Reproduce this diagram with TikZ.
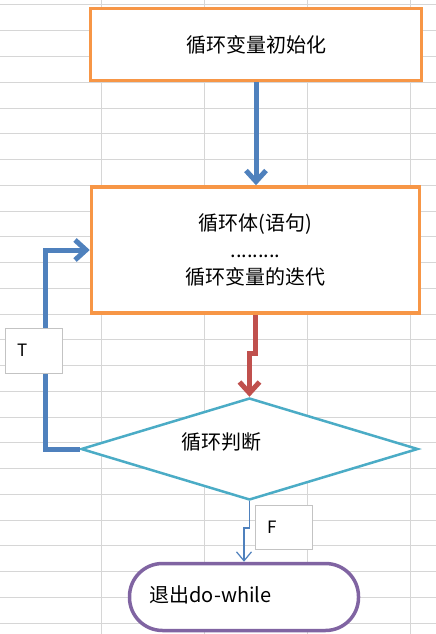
\documentclass[tikz,border=0pt]{standalone}
\usepackage{fontspec}
\setmainfont{Noto Sans CJK SC}
\usetikzlibrary{shapes.geometric,arrows.meta}

\definecolor{offorange}{RGB}{247,150,70}
\definecolor{offblue}{RGB}{79,129,189}
\definecolor{offred}{RGB}{192,80,77}
\definecolor{offteal}{RGB}{75,172,198}
\definecolor{offpurple}{RGB}{128,100,162}
\definecolor{cellgrid}{RGB}{214,214,214}
\definecolor{tagborder}{RGB}{195,195,195}

\begin{document}
\begin{tikzpicture}[x=1pt, y=-1pt,
  orangebox/.style={draw=offorange, line width=3.5pt, fill=white, inner sep=0pt,
    align=center, font=\fontsize{20}{27}\selectfont},
  tealdiamond/.style={diamond, draw=offteal, line width=2.5pt, fill=white, inner sep=0pt},
  purpleterm/.style={draw=offpurple, line width=3.5pt, fill=white, inner sep=0pt,
    rounded corners=33pt},
  plaintext/.style={inner sep=0pt, font=\fontsize{20}{27}\selectfont},
  tagbox/.style={draw=tagborder, line width=1pt, fill=white, inner xsep=12pt,
    text width=33pt, align=left, font=\fontsize{17}{20}\selectfont},
  blueflow/.style={draw=offblue, line width=5pt, -{Straight Barb[length=11pt, width=20pt]}},
  redflow/.style={draw=offred, line width=5pt, -{Straight Barb[length=11pt, width=20pt]}},
  thinflow/.style={draw=offblue, line width=1.2pt, -{Straight Barb[length=9pt, width=15pt]}}
]

% Background
\fill[white] (0,0) rectangle (436,634);
\useasboundingbox (0,0) rectangle (436,634);

% Grid
\foreach \k in {0,...,24}
  \draw[cellgrid, line width=1pt] (0,{5+25.75*\k}) -- (436,{5+25.75*\k});
\foreach \gx in {101,204,307,410}
  \draw[cellgrid, line width=1pt] (\gx,0) -- (\gx,634);

% Boxes
\node[orangebox, minimum width=331pt, minimum height=72pt] (init) at (256,44.5) {循环变量初始化};
\node[orangebox, minimum width=328pt, minimum height=126pt] (body) at (255.5,250) {循环体(语句)\\.........\\循环变量的迭代};

% Decision
\node[tealdiamond, minimum width=337pt, minimum height=102pt] (judge) at (249.5,449) {};
\node[plaintext] (judgetxt) at (221,442) {循环判断};

% Exit
\node[purpleterm, minimum width=229pt, minimum height=67pt] (exit) at (244,597) {};
\node[plaintext] (exittxt) at (210.5,595) {退出do-while};

% Bends
\coordinate (redjog) at (249.5,353);
\coordinate (loopc) at (45,250);
\coordinate (fjog) at (244,528);

% Arrows
\draw[blueflow] (init.south) -- (init.south |- body.north);
\draw[redflow] (body.south) |- (redjog) -- (judge.north);
\draw[blueflow] (judge.west) -| (loopc) -- (body.west |- loopc);
\draw[thinflow] (judge.south) |- (fjog) -- (exit.north);

% Tags
\node[tagbox, minimum height=45pt] (ttag) at (33.5,350.5) {T};
\node[tagbox, minimum height=44pt] (ftag) at (283.5,527) {F};

\end{tikzpicture}
\end{document}
